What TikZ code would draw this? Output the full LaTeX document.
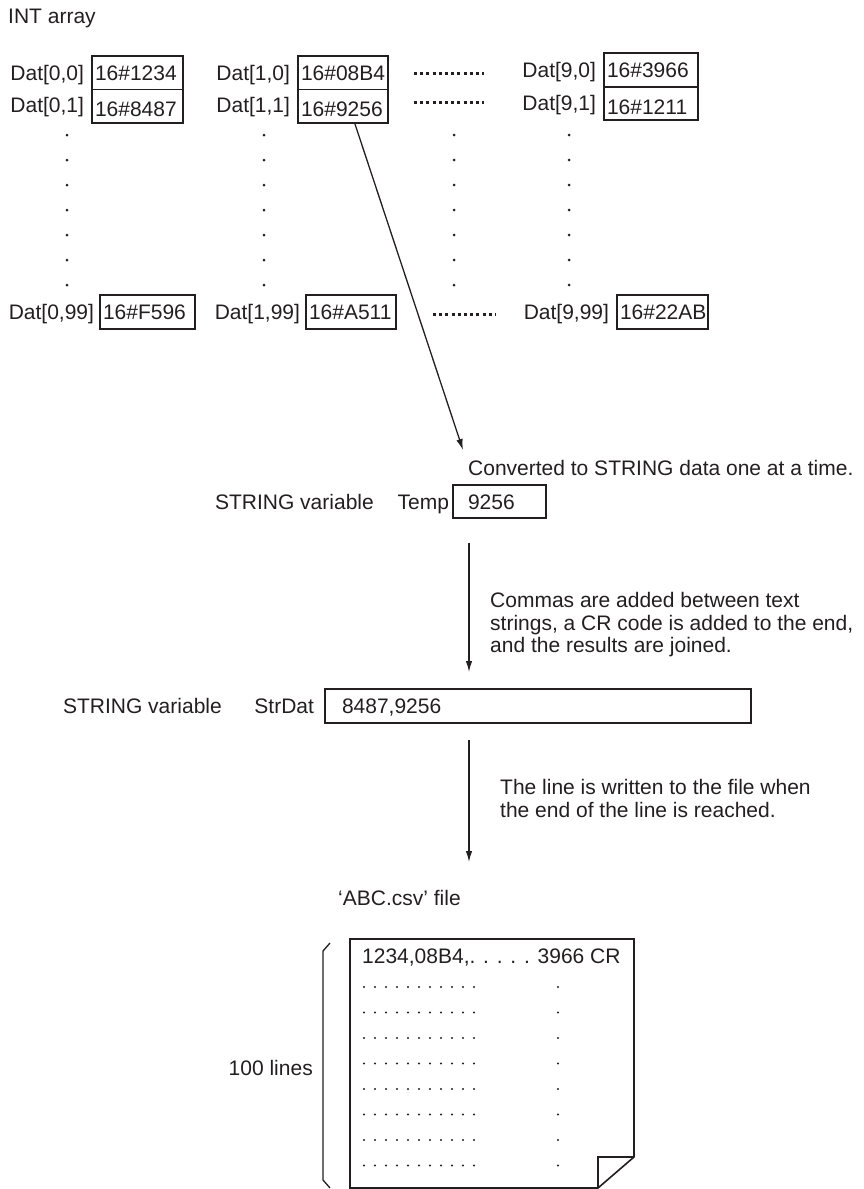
\documentclass[tikz,border=0pt]{standalone}
\usepackage{fontspec}
\setmainfont{Liberation Sans}
\usetikzlibrary{arrows.meta,calc}
\definecolor{ink}{HTML}{231F20}
\begin{document}
\begin{tikzpicture}[x=1pt,y=-1pt,
  every node/.style={font=\fontsize{21}{24}\selectfont, text=ink},
  lbl/.style={inner sep=0pt, text height=15pt, text depth=0pt},
  cell/.style={draw=ink, line width=1.6pt, inner ysep=0pt, inner xsep=3pt,
               minimum height=33.5pt, text height=15pt, text depth=0pt, align=left},
  lowtxt/.style={text height=21pt},
  conn/.style={draw=ink, line width=1.3pt, -{Latex[length=11pt,width=6.5pt]}},
  ellip/.style={draw=ink, line width=3pt, dash pattern=on 3pt off 3.2pt},
  dotc/.style={fill=ink}
]
\useasboundingbox (0,0) rectangle (864,1189);

% title
\node[lbl, anchor=west] (title) at (8,16) {INT array};

% top rows
\node[cell, text width=85pt] (b00) at (137.5,72.75) {16\#1234};
\node[cell, text width=85pt, lowtxt] (b01) at (137.5,106.25) {16\#8487};
\node[cell, text width=84pt] (b10) at (343,72.75) {16\#08B4};
\node[cell, text width=84pt, lowtxt] (b11) at (343,106.25) {16\#9256};
\node[cell, text width=88pt] (b90) at (651,70) {16\#3966};
\node[cell, text width=88pt, lowtxt] (b91) at (651,103.5) {16\#1211};

\node[lbl, anchor=east] (l00) at ($(b00.west)+(-7,0)$) {Dat[0,0]};
\node[lbl, anchor=east] (l01) at ($(b01.west)+(-7,-1)$) {Dat[0,1]};
\node[lbl, anchor=east] (l10) at ($(b10.west)+(-7,0)$) {Dat[1,0]};
\node[lbl, anchor=east] (l11) at ($(b11.west)+(-7,-1)$) {Dat[1,1]};
\node[lbl, anchor=east] (l90) at ($(b90.west)+(-7,0)$) {Dat[9,0]};
\node[lbl, anchor=east] (l91) at ($(b91.west)+(-7,-1)$) {Dat[9,1]};

% ellipses rows 0 and 1
\coordinate (e0a) at (414,73);  \coordinate (e0b) at (484,73);
\coordinate (e1a) at (414,102); \coordinate (e1b) at (484,102);
\draw[ellip] (e0a) -- (e0b);
\draw[ellip] (e1a) -- (e1b);

% vertical dot columns
\foreach \xx in {67,264,454,569}{
  \foreach \k in {0,...,6}{
    \fill[dotc] (\xx,135+25*\k) circle (1.5pt);
  }
}

% row 99
\node[cell, text width=89pt] (b099) at (147.5,312) {16\#F596};
\node[cell, text width=84pt] (b199) at (351,312) {16\#A511};
\node[cell, text width=85pt] (b999) at (662.5,312) {16\#22AB};
\node[lbl, anchor=east] (l099) at ($(b099.west)+(-5,0)$) {Dat[0,99]};
\node[lbl, anchor=east] (l199) at ($(b199.west)+(-5,0)$) {Dat[1,99]};
\node[lbl, anchor=east] (l999) at ($(b999.west)+(-7,0)$) {Dat[9,99]};
\coordinate (e9a) at (433,314); \coordinate (e9b) at (496,314);
\draw[ellip] (e9a) -- (e9b);

% conversion arrow
\coordinate (s1) at ($(b11.south west)!0.63!(b11.south east)$);
\coordinate (t1) at (463,450);
\draw[conn] (s1) -- (t1);
\node[lbl, anchor=west] (conv) at (468,468) {Converted to STRING data one at a time.};

% Temp
\node[cell, inner xsep=15pt, text width=63pt] (temp) at (499.5,501.5) {9256};
\node[lbl, anchor=east] (templ) at ($(temp.west)+(-3,0)$) {Temp};
\node[lbl, anchor=east] (sv1) at (374,501.5) {STRING variable};

% arrow 2
\coordinate (a2s) at (469,543);
\coordinate (a2e) at (469,672);
\draw[conn] (a2s) -- (a2e);
\node[lbl, anchor=west] (c1) at (490,600) {Commas are added between text};
\node[lbl, anchor=west] (c2) at (490,622.5) {strings, a CR code is added to the end,};
\node[lbl, anchor=west] (c3) at (490,645) {and the results are joined.};

% StrDat
\node[cell, inner xsep=17pt, text width=392pt] (strdat) at (538,706) {8487,9256};
\node[lbl, anchor=east] (strl) at ($(strdat.west)+(-10,0)$) {StrDat};
\node[lbl, anchor=east] (sv2) at (222,706) {STRING variable};

% arrow 3
\coordinate (a3s) at (469,740);
\coordinate (a3e) at (469,862);
\draw[conn] (a3s) -- (a3e);
\node[lbl, anchor=west] (w1) at (500,787) {The line is written to the file when};
\node[lbl, anchor=west] (w2) at (500,810) {the end of the line is reached.};

% file
\node[lbl, anchor=west] (abc) at (338,898) {‘ABC.csv’ file};
\draw[draw=ink, line width=1.6pt, line join=miter]
  (350,939) -- (634,939) -- (634,1157) -- (598,1188) -- (350,1188) -- cycle;
\draw[draw=ink, line width=1.3pt] (634,1157) -- (598,1157) -- (598,1188);
\node[lbl, anchor=west] (frow) at (362,956) {1234,08B4,. . . . . 3966 CR};
\foreach \k in {0,...,7}{
  \foreach \j in {0,...,10}{
    \fill[dotc] (364+11*\j,987+25.5*\k) circle (1.2pt);
  }
  \fill[dotc] (558,987+25.5*\k) circle (1.2pt);
}
\node[lbl, anchor=east] (lines) at (313,1068) {100 lines};
\draw[draw=ink, line width=1.3pt] (330,943) -- (323,951) -- (323,1180) -- (330,1188);
\end{tikzpicture}
\end{document}
